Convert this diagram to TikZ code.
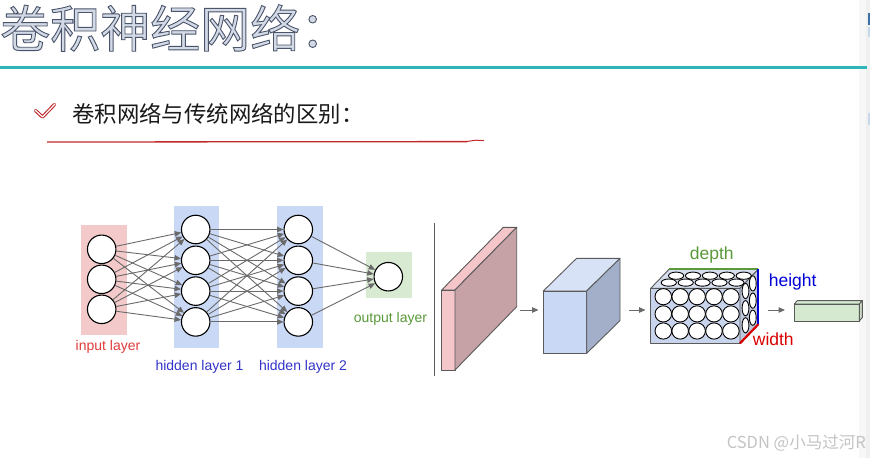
\documentclass[tikz,border=0pt]{standalone}
\usepackage{fontspec}
\setmainfont{Liberation Sans}
\newfontfamily\cjk{Noto Sans CJK SC}
\usetikzlibrary{arrows.meta}
\definecolor{titlefill}{HTML}{D3DAE6}
\definecolor{teal}{HTML}{2DB5B8}
\definecolor{redline}{HTML}{C0282C}
\definecolor{pinkbg}{HTML}{F4C9C9}
\definecolor{bluebg}{HTML}{C9D8F5}
\definecolor{greenbg}{HTML}{D9EAD3}
\definecolor{arrowgray}{HTML}{6A6A6A}
\definecolor{edgegray}{HTML}{5A5A5A}
\definecolor{inred}{HTML}{E03C3C}
\definecolor{hidblue}{HTML}{3434C8}
\definecolor{outgreen}{HTML}{5A9A3A}
\definecolor{slabfront}{HTML}{F4C6CA}
\definecolor{slabside}{HTML}{C6A2A6}
\definecolor{cubefront}{HTML}{C9D9F5}
\definecolor{cubetop}{HTML}{D8E2F6}
\definecolor{cubeside}{HTML}{A3AFC8}
\definecolor{ncfront}{HTML}{C8D3EC}
\definecolor{nctop}{HTML}{D6DDEC}
\definecolor{ncside}{HTML}{BFC8DC}
\definecolor{boxgreen}{HTML}{D5E8D0}
\definecolor{wm}{HTML}{C4C4C4}
\definecolor{edgeblue}{HTML}{3A6EA5}
\definecolor{edgelight}{HTML}{C8D8EC}
\begin{document}
\begin{tikzpicture}[x=1pt,y=-1pt,
  neuron/.style={circle,draw=black,line width=1.1,fill=white,minimum size=28.5,inner sep=0},
  layerbg/.style={inner sep=0,draw=none},
  conn/.style={draw=arrowgray,line width=0.9,-{Triangle[length=6.5,width=5.5]}},
  small/.style={draw=arrowgray,line width=1,-{Triangle[length=6.5,width=5.5]}},
  lbl/.style={font=\fontsize{14}{16}\selectfont,inner sep=0},
  dim/.style={font=\fontsize{17.5}{19}\selectfont,inner sep=0},
  face/.style={draw=edgegray,line width=0.9,line join=round},
  nc/.style={draw=black,line width=0.9,fill=white}
]
\useasboundingbox (0,0) rectangle (870,458);
\fill[white] (0,0) rectangle (870,458);

% right edge strip
\fill[black!3] (859,0) rectangle (870,458);
\fill[black!6] (866,0) rectangle (870,458);
\fill[edgeblue] (868,13) rectangle (870,25);
\fill[edgelight] (868,27) rectangle (870,37);
\fill[edgelight] (868,113) rectangle (870,125);

% title
\node[anchor=west,inner sep=0] (title) at (0,28)
  {\cjk\fontsize{50}{50}\selectfont\color{titlefill}\special{pdf:literal direct 2 Tr 0.9 w 0.29 0.33 0.42 RG}卷积神经网络：\special{pdf:literal direct 0 Tr}};
\draw[teal,line width=3] (0,67) -- (867,67);

% subtitle
\draw[redline,line width=3.4,line cap=round,line join=round] (35.5,110.5) -- (42.5,117) -- (54.5,104.5);
\draw[white,line width=1.2,line cap=round,line join=round] (35.5,110.5) -- (42.5,117) -- (54.5,104.5);
\node[anchor=west,inner sep=0] (sub) at (72,114)
  {\cjk\fontsize{22.4}{22.4}\selectfont\color{black!90}卷积网络与传统网络的区别：};
\draw[redline,line width=1.3] (47,142) -- (467,141.6);
\draw[redline,line width=1] (466,141.6) -- (476,140.2) -- (484,140.6);

% neural network backgrounds
\node[layerbg,fill=pinkbg,minimum width=46,minimum height=110] (inrect) at (103.5,280) {};
\node[layerbg,fill=bluebg,minimum width=45,minimum height=142] (h1rect) at (196.5,277) {};
\node[layerbg,fill=bluebg,minimum width=46,minimum height=142] (h2rect) at (300,277) {};
\node[layerbg,fill=greenbg,minimum width=46,minimum height=46] (outrect) at (389,274.5) {};

% neurons
\node[neuron] (i1) at (101.7,249.3) {};
\node[neuron] (i2) at (101.7,279.3) {};
\node[neuron] (i3) at (101.7,309.3) {};
\node[neuron] (a1) at (195.7,229.5) {};
\node[neuron] (a2) at (195.7,260.3) {};
\node[neuron] (a3) at (195.7,291.1) {};
\node[neuron] (a4) at (195.7,321.9) {};
\node[neuron] (b1) at (298.3,229.5) {};
\node[neuron] (b2) at (298.3,260.3) {};
\node[neuron] (b3) at (298.3,291.1) {};
\node[neuron] (b4) at (298.3,321.9) {};
\node[neuron] (o1) at (388.3,276.7) {};

\foreach \i in {1,2,3}{\foreach \j in {1,2,3,4}{\draw[conn] (i\i) -- (a\j);}}
\foreach \i in {1,2,3,4}{\foreach \j in {1,2,3,4}{\draw[conn] (a\i) -- (b\j);}}
\foreach \i in {1,2,3,4}{\draw[conn] (b\i) -- (o1);}

\node[lbl,text=inred] (inlbl) at (108,347) {input layer};
\node[lbl,text=hidblue] (h1lbl) at (199.5,366.5) {hidden layer 1};
\node[lbl,text=hidblue] (h2lbl) at (303,366.5) {hidden layer 2};
\node[lbl,text=outgreen] (outlbl) at (390.5,318.5) {output layer};

% divider
\draw[edgegray,line width=1.3] (434.5,223) -- (434.5,376);

% pink slab
\filldraw[face,fill=slabfront] (441.7,290) -- (455,290) -- (516.7,227.3) -- (503.3,227.3) -- cycle;
\filldraw[face,fill=slabfront] (441.7,290) rectangle (455,370);
\filldraw[face,fill=slabside] (455,290) -- (516.7,227.3) -- (516.7,306.7) -- (455,370) -- cycle;
\coordinate (s1a) at (520,310);
\coordinate (s1b) at (538.5,310);
\draw[small] (s1a) -- (s1b);

% blue cube
\filldraw[face,fill=cubetop] (543.3,291) -- (586.7,291) -- (620,258.3) -- (576.6,258.3) -- cycle;
\filldraw[face,fill=cubefront] (543.3,291) rectangle (586.7,353.3);
\filldraw[face,fill=cubeside] (586.7,291) -- (620,258.3) -- (620,320.6) -- (586.7,353.3) -- cycle;
\coordinate (s2a) at (629,310);
\coordinate (s2b) at (645.5,310);
\draw[small] (s2a) -- (s2b);

% neuron cube
\filldraw[face,fill=nctop] (650.7,288.3) -- (740,288.3) -- (758.3,269.3) -- (669,269.3) -- cycle;
\filldraw[face,fill=ncfront] (650.7,288.3) rectangle (740,343.3);
\filldraw[face,fill=ncside] (740,288.3) -- (758.3,269.3) -- (758.3,324.3) -- (740,343.3) -- cycle;
\foreach \x in {663.3,680.2,697.1,714,730.9}{
  \foreach \y in {296.7,313.9,331}{\draw[nc] (\x,\y) ellipse [x radius=8.3,y radius=8.1];}
  \draw[nc] ({\x+12.8},275.7) ellipse [x radius=7.6,y radius=3.6];
  \draw[nc] ({\x+5.5},282.6) ellipse [x radius=7.6,y radius=3.6];
}
\foreach \y in {296.7,313.9,331}{
  \draw[nc] (752.8,{\y-13.3}) ellipse [x radius=3.4,y radius=7.6];
  \draw[nc] (745.5,{\y-5.7}) ellipse [x radius=3.4,y radius=7.6];
}
\draw[outgreen,line width=2.2] (669,269.3) -- (758.3,269.3);
\draw[blue!85!black,line width=2.2] (758.3,269.3) -- (758.3,324.3);
\draw[red!85!black,line width=2.2] (740,343.3) -- (758.3,324.3);
\node[dim,text=outgreen] (dlbl) at (711.7,255) {depth};
\node[dim,text=blue!85!black] (hlbl) at (792.7,281.7) {height};
\node[dim,text=red!85!black] (wlbl) at (773.3,339.3) {width};
\coordinate (s3a) at (768,310);
\coordinate (s3b) at (785,310);
\draw[small] (s3a) -- (s3b);

% output box
\filldraw[face,fill=boxgreen] (794.3,304) -- (859.3,304) -- (862.3,300.6) -- (797.3,300.6) -- cycle;
\filldraw[face,fill=boxgreen] (794.3,304) rectangle (859.3,321);
\filldraw[face,fill=boxgreen!85!gray] (859.3,304) -- (862.3,300.6) -- (862.3,317.6) -- (859.3,321) -- cycle;

% watermark
\node[anchor=east,inner sep=0,text=wm] (wmk) at (866,443) {\cjk\fontsize{16.5}{16.5}\selectfont CSDN @小马过河R};
\end{tikzpicture}
\end{document}
